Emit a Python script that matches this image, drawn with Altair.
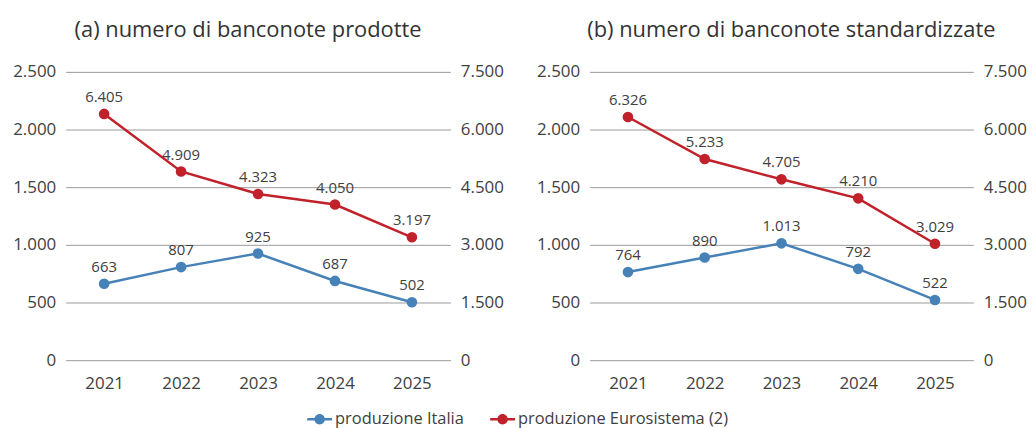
import altair as alt
import pandas as pd

anni = ["2021", "2022", "2023", "2024", "2025"]
serie = ["produzione Italia", "produzione Eurosistema (2)"]

# (a) numero di banconote prodotte
a_italia = [663, 807, 925, 687, 502]
a_euro = [6405, 4909, 4323, 4050, 3197]
# (b) numero di banconote standardizzate
b_italia = [764, 890, 1013, 792, 522]
b_euro = [6326, 5233, 4705, 4210, 3029]

titoli = ["(a) numero di banconote prodotte", "(b) numero di banconote standardizzate"]
sx_ticks = [0, 500, 1000, 1500, 2000, 2500]
dx_ticks = [0, 1500, 3000, 4500, 6000, 7500]

BLU = "#4682b8"
ROSSO = "#c1212b"
TXT = "#404040"
FONT = "Open Sans"

fmt_expr = "replace(format(datum.value, ','), ',', '.')"

legend_symbol = ("M-1,-0.1 L1,-0.1 L1,0.1 L-1,0.1 Z "
                 "M0.42,0 A0.42,0.42 0 1,1 -0.42,0 A0.42,0.42 0 1,1 0.42,0 Z")

color = alt.Color(
    "serie:N",
    scale=alt.Scale(domain=serie, range=[BLU, ROSSO]),
    legend=alt.Legend(
        title=None, orient="none", direction="horizontal",
        legendX=243, legendY=337,
        symbolType=legend_symbol, symbolSize=625, symbolStrokeWidth=0,
        labelFont=FONT, labelFontSize=16.5, labelColor=TXT, labelOffset=3,
        labelLimit=0, columnPadding=26,
    ),
)


def panel(italia, euro, titolo, dx, w):
    df = pd.DataFrame({
        "anno": anni * 2,
        "serie": [serie[0]] * len(anni) + [serie[1]] * len(anni),
        "valore": italia + euro,
    })
    df["lab"] = df["valore"].map(lambda v: f"{v:,}".replace(",", "."))
    x = alt.X("anno:O", scale=alt.Scale(type="point", padding=0.5),
              axis=alt.Axis(title=None, labelAngle=0, domain=False, ticks=False,
                            labelPadding=16, labelFontSize=17, labelColor=TXT,
                            labelFont=FONT))
    base = alt.Chart(df).encode(x=x)

    def serie_layer(nome, col, dom, ticks, orient, grid):
        y = alt.Y("valore:Q", scale=alt.Scale(domain=dom, nice=False),
                  axis=alt.Axis(title=None, orient=orient, values=ticks, grid=grid,
                                gridColor="#9a9a9a", gridWidth=1,
                                domain=False, ticks=False, labelPadding=10,
                                labelFontSize=17, labelColor=TXT, labelFont=FONT,
                                labelExpr=fmt_expr))
        b = base.transform_filter(alt.datum.serie == nome).encode(y=y)
        line = b.mark_line(color=col, strokeWidth=2.5)
        pts = b.mark_point(filled=True, size=115, opacity=1).encode(color=color)
        txt = b.mark_text(dy=-17, fontSize=15, color=TXT, font=FONT).encode(text="lab:N")
        return alt.layer(line, pts, txt)

    l_it = serie_layer(serie[0], BLU, [0, 2500], sx_ticks, "left", True)
    l_eu = serie_layer(serie[1], ROSSO, [0, 7500], dx_ticks, "right", False)
    return alt.layer(l_it, l_eu).resolve_scale(y="independent").properties(
        width=w, height=290,
        title=alt.TitleParams(titolo, fontSize=22, font=FONT, color="#333333",
                              fontWeight="normal", offset=21, dx=dx),
    )


chart = alt.hconcat(
    panel(a_italia, a_euro, titoli[0], -10, 387),
    panel(b_italia, b_euro, titoli[1], 10, 386),
    spacing=32,
).properties(
    padding={"left": 4, "top": 10, "right": 0, "bottom": 0},
).configure_view(stroke=None)

chart.save("out.html", embed_options={"renderer": "svg", "actions": False})
